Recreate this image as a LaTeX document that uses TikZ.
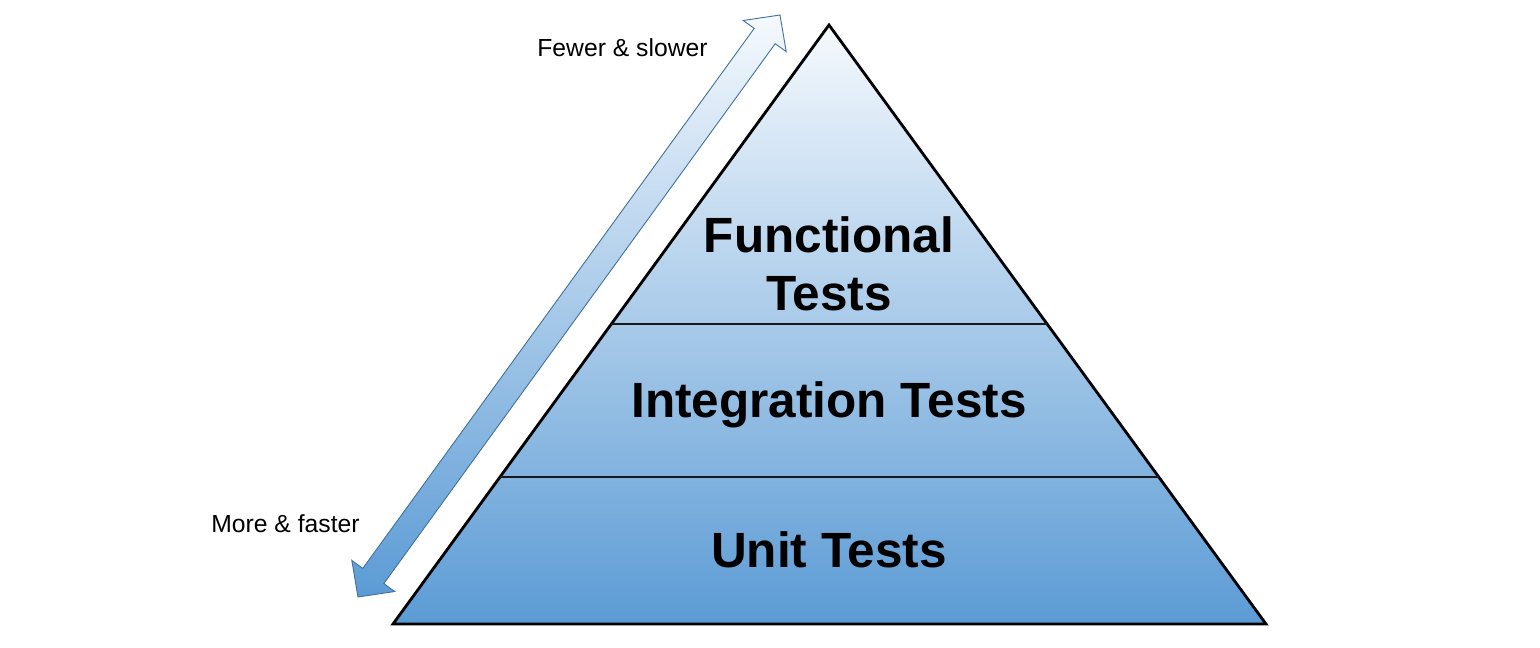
\documentclass[tikz,border=0pt]{standalone}
\usepackage{fontspec}
\setmainfont{Liberation Sans}
\usetikzlibrary{calc}
\definecolor{paletop}{HTML}{F5F9FD}
\definecolor{deepblue}{HTML}{5B9BD5}
\definecolor{arrowline}{HTML}{41719C}

\begin{document}
\begin{tikzpicture}[
  x=1pt, y=-1pt,
  tier/.style={font=\fontsize{49.5}{58.5}\selectfont\bfseries, align=center, inner sep=0pt},
  side note/.style={font=\fontsize{24.7}{29}\selectfont, inner sep=0pt, anchor=base},
  divider/.style={line width=1.6pt, black!90}]

  \useasboundingbox (0,0) rectangle (1540,648);

  % pyramid
  \coordinate (apex) at (829,25);
  \coordinate (bl) at (393,624);
  \coordinate (br) at (1266,624);
  \draw[line width=2.8pt, top color=paletop, bottom color=deepblue] (apex) -- (bl) -- (br) -- cycle;

  \coordinate (upl) at ($(apex)!0.4992!(bl)$);
  \coordinate (upr) at ($(apex)!0.4992!(br)$);
  \coordinate (lowl) at ($(apex)!0.7546!(bl)$);
  \coordinate (lowr) at ($(apex)!0.7546!(br)$);
  \draw[divider] (upl) -- (upr);
  \draw[divider] (lowl) -- (lowr);

  \node[tier] (func) at (829,264) {Functional\\Tests};
  \node[tier, anchor=base] (integ) at (829,417) {Integration Tests};
  \node[tier, anchor=base] (unit) at (829,567) {Unit Tests};

  % double arrow beside the pyramid
  \coordinate (lo) at (358,597);
  \coordinate (hi) at (780,15);
  \draw[arrowline, line width=0.9pt, top color=paletop, bottom color=deepblue]
    (lo) -- (394.7,591.5) -- (383.8,583.6) -- (775.2,43.7) -- (786.2,51.6)
    -- (hi) -- (743.2,20.5) -- (754.2,28.4) -- (362.8,568.4) -- (351.8,560.4) -- cycle;

  \node[side note] (fewer) at (622.5,56.5) {Fewer \& slower};
  \node[side note] (more) at (285.5,532.3) {More \& faster};
\end{tikzpicture}
\end{document}
